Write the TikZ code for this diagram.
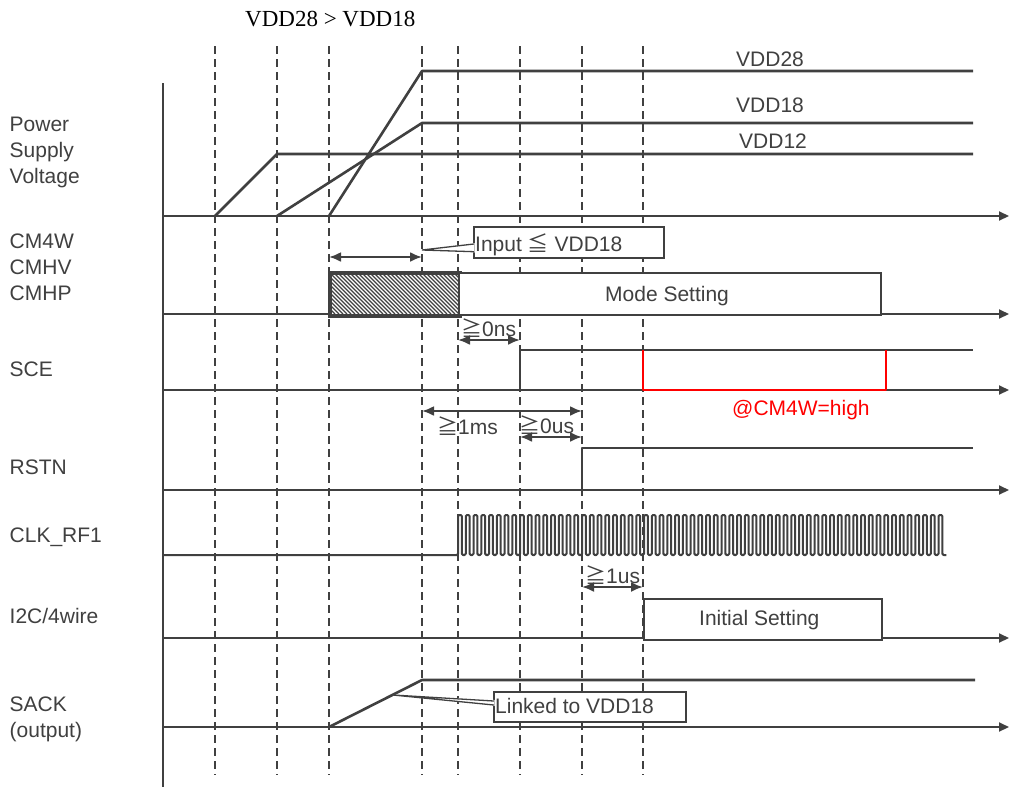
\documentclass[tikz,border=0pt]{standalone}
\usepackage{fontspec}
\setmainfont{Liberation Sans}
\newfontfamily\serifT{Liberation Serif}
\newfontfamily\cjkjp{Noto Sans CJK JP}
\usetikzlibrary{arrows.meta,calc}
\definecolor{ink}{HTML}{404040}
\definecolor{sigred}{HTML}{FF0000}
\newcommand{\mygeq}{{\cjkjp ≧}}
\newcommand{\myleq}{{\cjkjp ≦}}
\begin{document}
\begin{tikzpicture}[x=1pt,y=-1pt,
  lbl/.style={anchor=base west, inner sep=0, font=\fontsize{21}{25}\selectfont, text=ink},
  sig/.style={draw=ink, line width=2.6pt, line join=round},
  axis/.style={draw=ink, line width=2pt, -{Triangle[length=10pt,width=9pt]}},
  gridline/.style={draw=ink, line width=1.5pt, dash pattern=on 8pt off 5pt},
  tm/.style={draw=ink, line width=2.2pt, {Latex[length=12pt,width=10pt]}-{Latex[length=12pt,width=10pt]}},
  sbox/.style={draw=ink, line width=2.6pt, fill=white, inner sep=0, anchor=north west},
  callout/.style={draw=ink, line width=1.5pt, fill=white, inner sep=0, anchor=north west},
  ptr/.style={draw=ink, line width=1.3pt},
]
\fill[white] (0,0) rectangle (1009,787);
\useasboundingbox (0,0) rectangle (1009,787);

% time marks
\foreach \n/\x in {ta/215,tb/277,tc/329,td/422,te/458,tf/520,tg/582,th/643}
  \coordinate (\n) at (\x,0);
\foreach \x in {215,277,329,422,458,520,582,643}
  \draw[gridline] (\x,46) -- (\x,775);

% title
\node[anchor=base west, inner sep=0, font=\serifT\fontsize{23}{27}\selectfont, text=black] (title) at (245,27) {VDD28 > VDD18};

% left axis and baselines
\draw[ink, line width=2.2pt] (163,83) -- (163,787);
\foreach \y in {216,314,390,490,638,727}
  \draw[axis] (163,\y) -- (1009,\y);

% left labels
\node[lbl] (lp1) at (9.5,131.5) {Power};
\node[lbl] (lp2) at (9.5,157.5) {Supply};
\node[lbl] (lp3) at (9.5,183.5) {Voltage};
\node[lbl] (lc1) at (9.5,248) {CM4W};
\node[lbl] (lc2) at (9.5,274.5) {CMHV};
\node[lbl] (lc3) at (9.5,300) {CMHP};
\node[lbl] (lsce) at (9.5,376) {SCE};
\node[lbl] (lrst) at (9.5,474) {RSTN};
\node[lbl] (lclk) at (9.5,542.5) {CLK\_RF1};
\node[lbl] (li2c) at (9.5,623) {I2C/4wire};
\node[lbl] (lsa1) at (9.5,711.5) {SACK};
\node[lbl] (lsa2) at (9.5,737) {(output)};

% power supply
\draw[sig] (215,216) -- (277,154) -- (973,154);
\draw[sig] (277,216) -- (422,123) -- (973,123);
\draw[sig] (329,216) -- (422,71) -- (973,71);
\node[lbl] (v28) at (736,66) {VDD28};
\node[lbl] (v18) at (736,112) {VDD18};
\node[lbl] (v12) at (739,148) {VDD12};

% CM4W / CMHV / CMHP
\node[sbox, minimum width=129, minimum height=42] (hatch) at (329,272) {};
\begin{scope}
  \clip (hatch.north west) rectangle (hatch.south east);
  \foreach \i in {0,...,44}
    \draw[ink, line width=1.2pt] ({285+\i*4},272) -- ++(42,42);
\end{scope}
\draw[ink, line width=2.4pt] (hatch.north west) rectangle (hatch.south east);
\node[sbox, line width=2.4pt, minimum width=422, minimum height=42] (mode) at (458,272) {};
\node[lbl] (modet) at (605,301) {Mode Setting};

\draw[tm] ($(tc)+(0,257)$) -- ($(td)+(0,257)$);
\node[callout, minimum width=190, minimum height=31] (inp) at (473,226) {};
\coordinate (inptip) at (422,250);
\fill[white] (inptip) -- ($(inp.north west)+(1.5,17)$) -- ($(inp.north west)+(1.5,26.5)$) -- cycle;
\draw[ptr] ($(inp.north west)+(0.8,18)$) -- (inptip) -- ($(inp.north west)+(0.8,25.7)$);
\node[lbl] (inpt) at (475,251) {Input \myleq{} VDD18};

\node[lbl] (g0ns) at (461,336) {\mygeq0ns};
\draw[tm] ($(te)+(0,340)$) -- ($(tf)+(0,340)$);

% SCE
\draw[sig] (520,390) -- (520,350) -- (973,350);
\draw[sigred, line width=2.6pt, line join=round] (643,350) -- (643,390) -- (886,390) -- (886,350);
\node[lbl, text=sigred] (cm4w) at (732,415) {@CM4W=high};

\draw[tm] ($(td)+(0,411)$) -- ($(tg)+(0,411)$);
\node[lbl] (g1ms) at (437,434) {\mygeq1ms};
\node[lbl] (g0us) at (519,433) {\mygeq0us};
\draw[tm] ($(tf)+(0,437)$) -- ($(tg)+(0,437)$);

% RSTN
\draw[sig] (582,490) -- (582,448) -- (973,448);

% CLK_RF1
\draw[ink, line width=2pt, line join=round, rounded corners=1.2pt] (163,555) -- (458,555)
  \foreach \i in {0,...,62} { -- ({458+\i*7.75},515) -- ({458+\i*7.75+3.9},515) -- ({458+\i*7.75+3.9},555) -- ({458+\i*7.75+7.75},555) };

\node[lbl] (g1us) at (585,583) {\mygeq1us};
\draw[tm] ($(tg)+(0,587)$) -- ($(th)+(0,587)$);

% I2C/4wire
\node[sbox, line width=2.4pt, minimum width=238, minimum height=41] (init) at (643,598) {};
\node[lbl] (initt) at (699,625) {Initial Setting};

% SACK
\draw[sig] (329,727) -- (422,680) -- (975,680);
\node[callout, minimum width=192, minimum height=30] (lnk) at (493,691) {};
\coordinate (lnktip) at (393,695);
\fill[white] (lnktip) -- ($(lnk.north west)+(1.5,9)$) -- ($(lnk.north west)+(1.5,15)$) -- cycle;
\draw[ptr] ($(lnk.north west)+(0.8,10)$) -- (lnktip) -- ($(lnk.north west)+(0.8,14)$);
\node[lbl] (lnkt) at (495,713) {Linked to VDD18};
\end{tikzpicture}
\end{document}
